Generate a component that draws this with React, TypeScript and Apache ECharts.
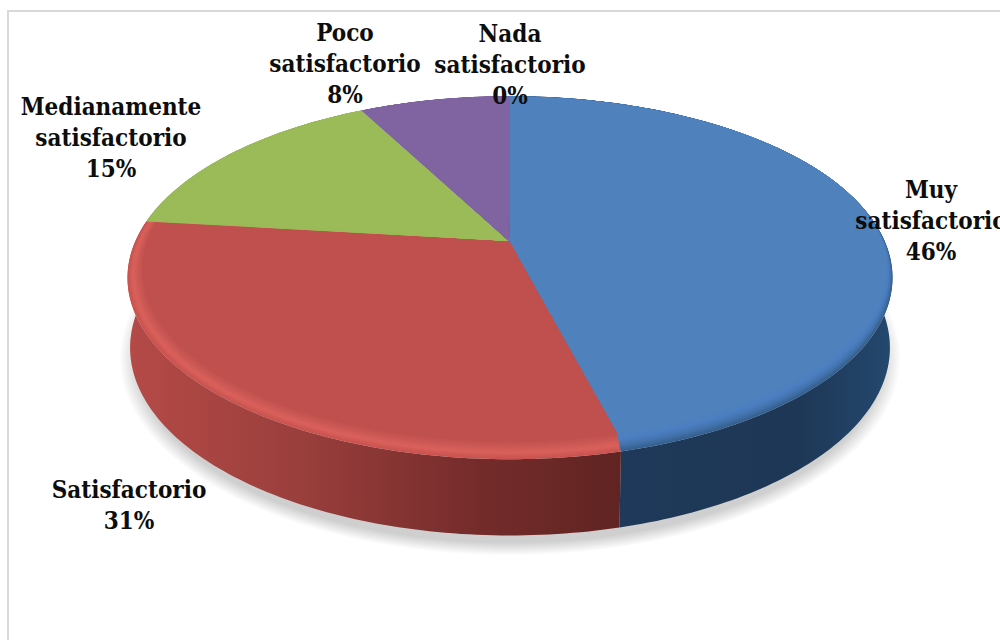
import React, { useEffect, useRef } from "react";
import * as echarts from "echarts";

const categories = ["Muy\nsatisfactorio", "Satisfactorio", "Medianamente\nsatisfactorio", "Poco\nsatisfactorio", "Nada\nsatisfactorio"];
const values = [6, 4, 2, 1, 0];
const topColors = ["#4f81bd", "#c0504d", "#9bbb59", "#8064a2", "#4bacc6"];
const rimColors = [
  ["#35608f", "#4474ad", "#4c7fc2", "#4f81bd"],
  ["#c9534f", "#da615c", "#cb5854", "#c0504d"],
  ["#9bbb59", "#9bbb59", "#9bbb59", "#9bbb59"],
  ["#8064a2", "#8064a2", "#8064a2", "#8064a2"],
  ["#4bacc6", "#4bacc6", "#4bacc6", "#4bacc6"],
];
const sideStops = [
  [[0, "#1e3a5c"], [0.75, "#1e3756"], [1, "#24486e"]],
  [[0, "#b54a47"], [0.35, "#9a3f3c"], [0.7, "#752c2b"], [1, "#602422"]],
  [[0, "#5f7530"], [1, "#5f7530"]],
  [[0, "#4d3b63"], [1, "#4d3b63"]],
  [[0, "#2a6b7d"], [1, "#2a6b7d"]],
];
const labelCenters = [[931, 220], [129, 505], [111, 137], [345, 63], [510, 64]];

const outer = { cx: 510, y0: 242, a: 174.5, b: 0.1967, c: 375, sh: 0 };
const inner = { cx: 510, y0: 236.3, a: 165.8, b: 0.19, c: 365, sh: 5 };
const lower = { cx: 510, y0: 312, a: 181, b: 0.19, c: 373, sh: 0 };
const APEX = [509, 241];
const total = values.reduce((s, v) => s + v, 0);

type Proj = typeof outer;
const project = (p: Proj, deg: number) => {
  const r = (deg * Math.PI) / 180;
  const x = Math.sin(r);
  const s = -Math.cos(r);
  const d = 1 - p.b * s;
  return [p.cx + (p.c * x) / d + p.sh * x * x, p.y0 + (p.a * s) / d];
};
const mix = (p: Proj, q: Proj, t: number): Proj => ({
  cx: p.cx + (q.cx - p.cx) * t,
  y0: p.y0 + (q.y0 - p.y0) * t,
  a: p.a + (q.a - p.a) * t,
  b: p.b + (q.b - p.b) * t,
  c: p.c + (q.c - p.c) * t,
  sh: p.sh + (q.sh - p.sh) * t,
});
const sliceRange = (i: number) => {
  const before = values.slice(0, i).reduce((s, v) => s + v, 0);
  return [(before / total) * 360, ((before + values[i]) / total) * 360];
};
const arc = (p: Proj, a0: number, a1: number) => {
  const n = Math.max(2, Math.ceil((a1 - a0) / 1));
  const pts: number[][] = [];
  for (let k = 0; k <= n; k++) pts.push(project(p, a0 + ((a1 - a0) * k) / n));
  return pts;
};
const hexMix = (h1: string, h2: string, t: number) => {
  const n = (h: string, i: number) => parseInt(h.slice(i, i + 2), 16);
  const c = [1, 3, 5].map((i) => Math.round(n(h1, i) + (n(h2, i) - n(h1, i)) * t));
  return `rgb(${c[0]},${c[1]},${c[2]})`;
};
const rimColor = (stops: string[], t: number) => {
  const u = t * (stops.length - 1);
  const i = Math.min(stops.length - 2, Math.floor(u));
  return hexMix(stops[i], stops[i + 1], u - i);
};

const FONT = "'DejaVu Serif Condensed', 'DejaVu Serif', serif";

const renderSide = (params: any) => {
  const i = params.dataIndex;
  if (!values[i]) return { type: "group", children: [] };
  const [a0, a1] = sliceRange(i);
  const top = arc(outer, a0, a1);
  const bot = arc(lower, a0, a1).reverse();
  return {
    type: "polygon",
    shape: { points: top.concat(bot) },
    style: {
      fill: new echarts.graphic.LinearGradient(0, 0, 1, 0, sideStops[i].map(([offset, color]) => ({ offset: offset as number, color: color as string }))),
    },
  };
};
const renderTop = (params: any) => {
  const i = params.dataIndex;
  if (!values[i]) return { type: "group", children: [] };
  const [a0, a1] = sliceRange(i);
  const children: any[] = [];
  const layers = 14;
  for (let k = 0; k <= layers; k++) {
    const t = k / layers;
    const face = mix(outer, inner, t);
    children.push({
      type: "polygon",
      shape: { points: [APEX, ...arc(face, a0, a1)] },
      style: { fill: rimColor(rimColors[i], t) },
    });
  }
  children.push({
    type: "polygon",
    shape: { points: [APEX, ...arc(inner, a0, a1)] },
    style: { fill: topColors[i] },
  });
  return { type: "group", children };
};
const renderLabel = (params: any) => {
  const i = params.dataIndex;
  const pct = Math.round((values[i] / total) * 100);
  return {
    type: "text",
    style: {
      x: labelCenters[i][0],
      y: labelCenters[i][1],
      text: `${categories[i]}\n${pct}%`,
      align: "center",
      verticalAlign: "middle",
      fontFamily: FONT,
      fontWeight: "bold",
      fontSize: 24,
      lineHeight: 31,
      fill: "#0d0d0d",
    },
  };
};

const shadowLayers = Array.from({ length: 12 }, (_, k) => {
  const t = k / 11;
  return {
    type: "ellipse",
    z: 0,
    shape: { cx: 510, cy: 358 + 2 * t, rx: 390 - 18 * t, ry: 197 - 14 * t },
    style: { fill: "#000000", opacity: 0.014 },
    silent: true,
  };
});

export default function App() {
  const ref = useRef<HTMLDivElement>(null);
  useEffect(() => {
    document.body.style.margin = "0";
    const chart = echarts.init(ref.current!, undefined, { renderer: "svg" });
    chart.setOption({
      animation: false,
      backgroundColor: "#ffffff",
      graphic: [
        { type: "rect", z: 0, shape: { x: 7, y: 10, width: 993, height: 2 }, style: { fill: "#d9d9d9" } },
        { type: "rect", z: 0, shape: { x: 7, y: 10, width: 2, height: 630 }, style: { fill: "#d9d9d9" } },
        ...shadowLayers,
      ],
      series: [
        { type: "custom", coordinateSystem: "none", z: 2, silent: true, data: values, renderItem: renderSide },
        { type: "custom", coordinateSystem: "none", z: 3, silent: true, data: values, renderItem: renderTop },
        { type: "custom", coordinateSystem: "none", z: 4, silent: true, data: values, renderItem: renderLabel },
      ],
    });
    return () => chart.dispose();
  }, []);
  return <div ref={ref} style={{ width: 1000, height: 640 }} />;
}
